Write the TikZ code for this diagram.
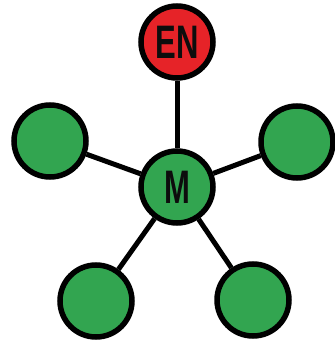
\documentclass[tikz,border=0pt]{standalone}
\usepackage{fontspec}
\setmainfont{Liberation Sans}
\usepackage{graphicx}
\usetikzlibrary{backgrounds}
\definecolor{AtomGreen}{RGB}{50,165,80}
\definecolor{AtomRed}{RGB}{230,35,40}

\begin{document}
\begin{tikzpicture}[x=1pt, y=-1pt]
    % Fixed frame of the picture
    \useasboundingbox (0,0) rectangle (334,342);

    \tikzset{
        atom/.style={circle, draw=black, line width=5.5pt, minimum size=72pt,
            inner sep=0pt, fill=AtomGreen},
        bond/.style={line width=5pt, black},
        symb/.style={font=\bfseries\fontsize{47}{47}\selectfont, text=black!95}
    }

    % Atoms
    \node[atom, symb] (M) at (177,187) {\scalebox{0.66}[1]{M}};
    \node[atom, symb, fill=AtomRed] (EN) at (177,42) {\scalebox{0.66}[1]{EN}};
    \node[atom] (L1) at (50,141) {};
    \node[atom] (L2) at (297,142) {};
    \node[atom] (L3) at (96,301) {};
    \node[atom] (L4) at (253,300) {};

    % Bonds (behind the atoms)
    \begin{scope}[on background layer]
        \foreach \n in {EN,L1,L2,L3,L4}
            \draw[bond] (M) -- (\n);
    \end{scope}
\end{tikzpicture}
\end{document}
